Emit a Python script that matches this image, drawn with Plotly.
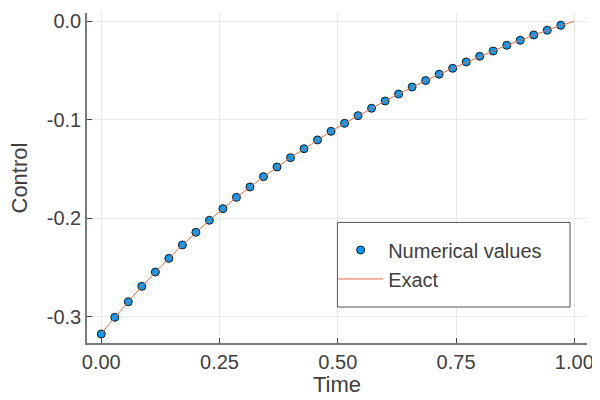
import plotly.graph_objects as go

# time grid of the numerical solution (35 nodes, step 1/35)
time_num = [i / 35 for i in range(35)]
control_num = [
    -0.3176, -0.3006, -0.2848, -0.2691, -0.2546, -0.2407, -0.2271, -0.2142,
    -0.2020, -0.1902, -0.1787, -0.1682, -0.1577, -0.1479, -0.1384, -0.1293,
    -0.1204, -0.1116, -0.1035, -0.0957, -0.0882, -0.0808, -0.0737, -0.0666,
    -0.0600, -0.0536, -0.0476, -0.0412, -0.0354, -0.0300, -0.0242, -0.0191,
    -0.0137, -0.0089, -0.0039,
]

# exact curve, same nodes plus the end point t = 1
time_exact = time_num + [1.0]
control_exact = [-0.3170] + control_num[1:] + [0.0]

x_ticks = [0.0, 0.25, 0.5, 0.75, 1.0]
x_ticktext = ["0.00", "0.25", "0.50", "0.75", "1.00"]
y_ticks = [0.0, -0.1, -0.2, -0.3]
y_ticktext = ["0.0", "-0.1", "-0.2", "-0.3"]

FONT = "Liberation Sans, Arial, sans-serif"
TXT = "#404040"

fig = go.Figure()
fig.add_trace(go.Scatter(
    x=time_num, y=control_num, mode="markers", name="Numerical values",
    marker=dict(size=8, color="#009AFA", line=dict(width=1, color="#1a1a1a")),
))
fig.add_trace(go.Scatter(
    x=time_exact, y=control_exact, mode="lines", name="Exact",
    line=dict(width=1, color="#E26F46"),
))

axis_common = dict(
    showgrid=True, gridcolor="#e9e9e9", gridwidth=1,
    showline=True, linecolor="#7a7a7a", linewidth=1.5,
    ticks="inside", ticklen=5, tickcolor="#444", tickwidth=1,
    zeroline=False, mirror=False, automargin=False,
    tickfont=dict(family=FONT, size=20, color=TXT),
)

# the page body adds an 8px offset, margins are set with that in mind
fig.update_layout(
    width=600, height=400,
    margin=dict(l=79, r=21, t=5, b=65),
    paper_bgcolor="white", plot_bgcolor="white",
    xaxis=dict(range=[-0.0302, 1.0268], tickvals=x_ticks, ticktext=x_ticktext, **axis_common),
    yaxis=dict(range=[-0.3267, 0.0086], tickvals=y_ticks, ticktext=y_ticktext, **axis_common),
    legend=dict(
        x=0.4923, y=0.341, xanchor="left", yanchor="top",
        bgcolor="rgba(0,0,0,0)", borderwidth=0,
        font=dict(family=FONT, size=20, color=TXT),
        itemwidth=45, tracegroupgap=0,
    ),
    annotations=[
        dict(text="Time", xref="paper", yref="paper", x=0.5, y=-0.127,
             xanchor="center", yanchor="middle", showarrow=False,
             font=dict(family=FONT, size=22, color=TXT)),
        dict(text="Control", xref="paper", yref="paper", x=-0.137, y=0.5,
             xanchor="center", yanchor="middle", showarrow=False, textangle=-90,
             font=dict(family=FONT, size=22, color=TXT)),
    ],
    shapes=[
        dict(type="rect", xref="paper", yref="paper", x0=0.5009, x1=0.9660,
             y0=0.109, y1=0.3654, line=dict(color="#555", width=1),
             fillcolor="white", layer="above"),
    ],
)

fig.write_html("out.html")
